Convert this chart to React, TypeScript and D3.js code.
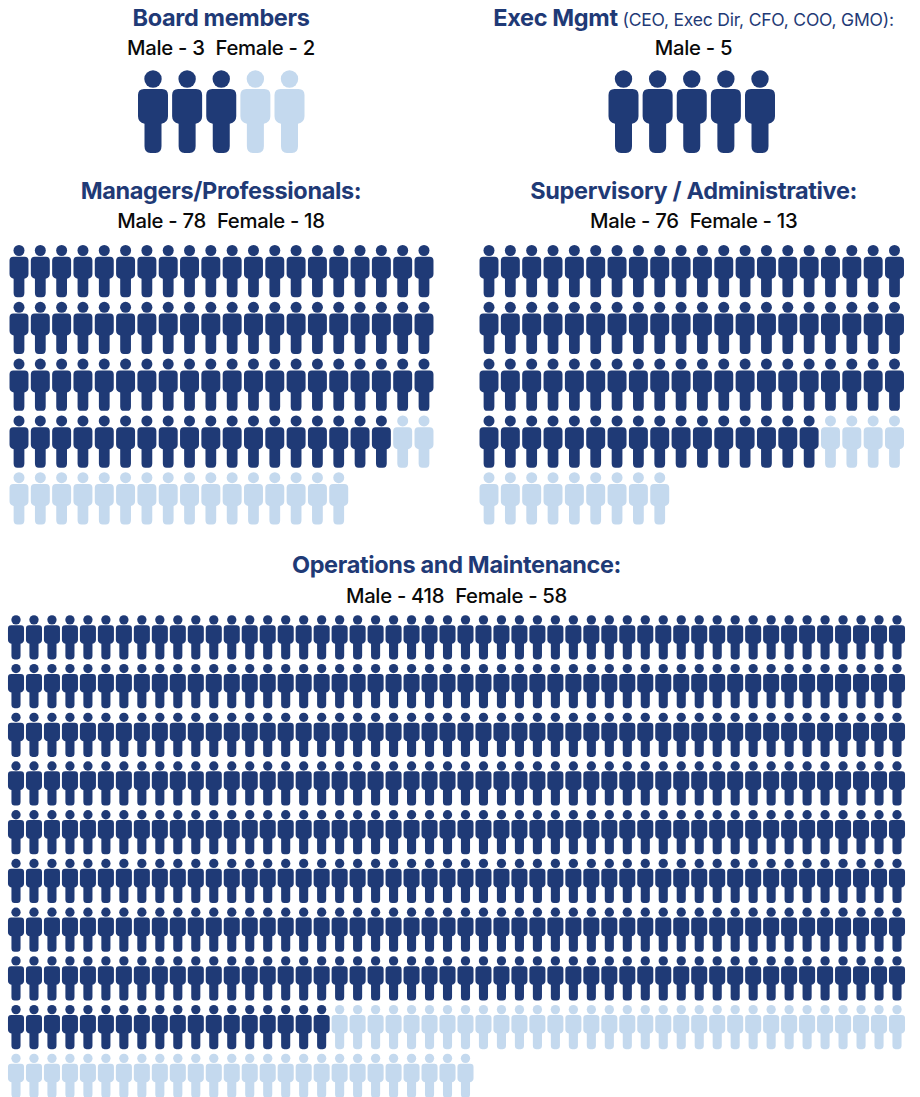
import React from "react";
import * as d3 from "d3";

const groupNames = ["Board members", "Exec Mgmt", "Managers/Professionals:", "Supervisory / Administrative:", "Operations and Maintenance:"];
const maleCounts = [3, 5, 78, 76, 418];
const femaleCounts = [2, 0, 18, 13, 58];
const columnCounts = [5, 5, 20, 20, 50];
const execNote = " (CEO, Exec Dir, CFO, COO, GMO):";

const NAVY = "#1f3a76";
const PALE = "#c4d9ee";
const FONT = "Inter, 'Noto Sans', sans-serif";

// Pictogram blocks: placement of the first and last column and the row layout.
const blocks = [
  { x0: 153, x1: 289.5, top: 70.3, rowStep: 0, scale: 1, titleX: 221, titleY: 26, subY: 55 },
  { x0: 623.5, x1: 760, top: 70.3, rowStep: 0, scale: 1, titleX: 693.5, titleY: 26, subY: 55 },
  { x0: 19, x1: 424, top: 245, rowStep: 56.8, scale: 0.632, titleX: 221, titleY: 199, subY: 228 },
  { x0: 489, x1: 894.5, top: 245, rowStep: 56.8, scale: 0.632, titleX: 693.7, titleY: 199, subY: 228 },
  { x0: 16, x1: 897, top: 615.2, rowStep: 48.72, scale: 0.535, titleX: 456.5, titleY: 573, subY: 603 },
];

// One figure with its origin at the top centre, 30 wide and 83 tall.
const BODY =
  "M-9,18.7 H9 Q15,18.7 15,24.7 V46 Q15,52 8.5,53.5 V76 Q8.5,82.7 2.5,82.7 H-2.5 Q-8.5,82.7 -8.5,76 V53.5 Q-15,52 -15,46 V24.7 Q-15,18.7 -9,18.7 Z";

function Figure({ x, y, s, color }: { x: number; y: number; s: number; color: string }) {
  return (
    <g transform={`translate(${x},${y}) scale(${s})`} fill={color}>
      <circle cx={0} cy={8.7} r={8.7} />
      <path d={BODY} />
    </g>
  );
}

function Block({ index }: { index: number }) {
  const b = blocks[index];
  const male = maleCounts[index];
  const female = femaleCounts[index];
  const cols = columnCounts[index];
  const total = male + female;
  const rows = Math.ceil(total / cols);
  const x = d3.scaleLinear().domain([0, cols - 1]).range([b.x0, b.x1]);
  const y = d3.scaleLinear().domain([0, Math.max(rows - 1, 1)]).range([b.top, b.top + b.rowStep * Math.max(rows - 1, 1)]);
  return (
    <g>
      {d3.range(total).map((i) => (
        <Figure
          key={i}
          x={x(i % cols)}
          y={y(Math.floor(i / cols))}
          s={b.scale}
          color={i < male ? NAVY : PALE}
        />
      ))}
      <text x={b.titleX} y={b.titleY} textAnchor="middle" fontFamily={FONT} fontSize={23.5} fontWeight={700} fill={NAVY} letterSpacing={-0.35}>
        {groupNames[index]}
        {index === 1 && (
          <tspan fontSize={17.5} fontWeight={400} letterSpacing={-0.2}>{execNote}</tspan>
        )}
      </text>
      <text x={b.titleX} y={b.subY} textAnchor="middle" fontFamily={FONT} fontSize={20.3} fontWeight={500} fill="#0a0a0a" letterSpacing={-0.3}>
        {`Male - ${male}`}
        {female > 0 && <tspan dx={11}>{`Female - ${female}`}</tspan>}
      </text>
    </g>
  );
}

export default function App() {
  return (
    <svg width={920} height={1097} viewBox="0 0 920 1097" style={{ position: "absolute", left: 0, top: 0, background: "#fff" }}>
      {groupNames.map((_, i) => (
        <Block key={i} index={i} />
      ))}
    </svg>
  );
}
